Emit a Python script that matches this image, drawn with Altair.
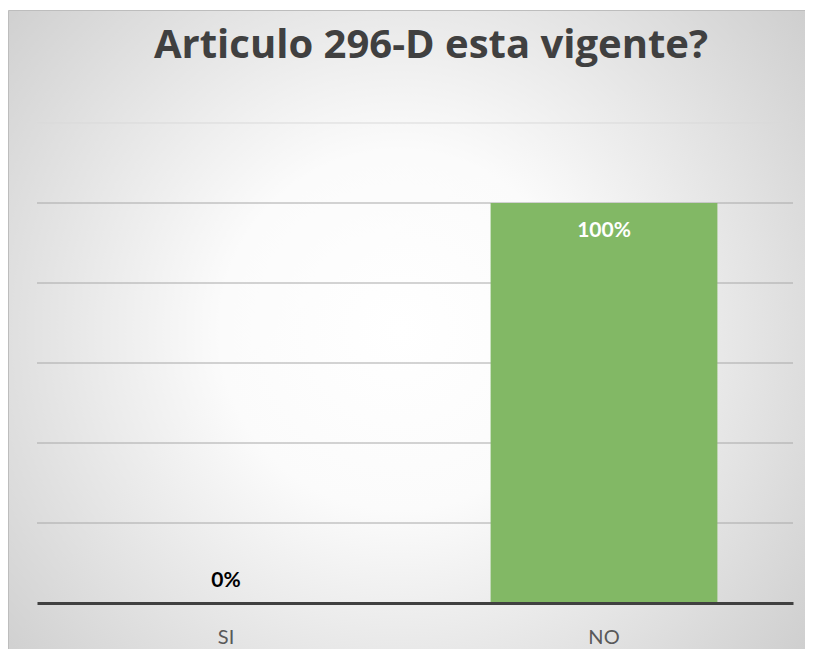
import altair as alt
import pandas as pd

categories = ["SI", "NO"]
values = [0.0, 1.0]
labels = ["0%", "100%"]
title_text = ["Articulo 296-D esta vigente?"]
grid_values = [0.2, 0.4, 0.6, 0.8, 1.0, 1.2]

df = pd.DataFrame({"cat": categories, "value": values, "label": labels})
grid_df = pd.DataFrame({"g": grid_values})
title_df = pd.DataFrame({"t": title_text})

W, H = 756, 480
PAD = {"left": 29, "top": 115, "right": 12, "bottom": 46}
FONT = "Lato"

xscale = alt.Scale(domain=categories, paddingInner=0.4, paddingOuter=0.2)
yscale = alt.Scale(domain=[0, 1.2], nice=False, zero=True)

bg = alt.Chart(title_df).mark_rect(
    fill={
        "gradient": "radial",
        "x1": 0.49, "y1": 0.5, "x2": 0.49, "y2": 0.5,
        "r1": 0, "r2": 0.75,
        "stops": [
            {"offset": 0, "color": "#ffffff"},
            {"offset": 0.3, "color": "#fbfbfb"},
            {"offset": 0.667, "color": "#dedede"},
            {"offset": 1, "color": "#c4c4c4"},
        ],
    },
    stroke="#bdbdbd",
    strokeWidth=1,
).encode(
    x=alt.value(-PAD["left"] + 0.5), x2=alt.value(W + PAD["right"] + 2),
    y=alt.value(-PAD["top"] + 2.5), y2=alt.value(H + PAD["bottom"] + 2),
)

title = alt.Chart(title_df).mark_text(
    font="Open Sans", fontSize=40, fontWeight="bold", color="#404040",
    baseline="alphabetic", align="center",
).encode(
    text="t:N",
    x=alt.value(394), y=alt.value(-65),
)

grid = alt.Chart(grid_df).mark_rule(strokeWidth=1).encode(
    y=alt.Y("g:Q", scale=yscale, axis=None),
    x=alt.value(0), x2=alt.value(W),
    color=alt.condition(alt.datum.g > 1.1, alt.value("#d9d9d9"),
                        alt.value("#a8a8a8")),
)

bars = alt.Chart(df).mark_bar(color="#82b865").encode(
    x=alt.X("cat:N", sort=categories, scale=xscale,
            axis=alt.Axis(title=None, labelAngle=0, ticks=False, tickSize=0,
                          labelPadding=40, labelBaseline="alphabetic",
                          labelFont=FONT, labelFontSize=20, labelColor="#595959",
                          domainColor="#404040", domainWidth=3, grid=False,
                          zindex=1)),
    y=alt.Y("value:Q", scale=yscale, axis=None),
)

lab_in = alt.Chart(df).transform_filter(alt.datum.value > 0.5).mark_text(
    font=FONT, fontSize=21, fontWeight="bold", color="white",
    baseline="alphabetic", dy=34,
).encode(
    x=alt.X("cat:N", sort=categories, scale=xscale),
    y=alt.Y("value:Q", scale=yscale),
    text="label:N",
)

lab_out = alt.Chart(df).transform_filter(alt.datum.value <= 0.5).mark_text(
    font=FONT, fontSize=21, fontWeight="bold", color="black",
    baseline="alphabetic", dy=-16,
).encode(
    x=alt.X("cat:N", sort=categories, scale=xscale),
    y=alt.Y("value:Q", scale=yscale),
    text="label:N",
)

chart = alt.layer(bg, title, grid, bars, lab_in, lab_out).properties(
    width=W, height=H,
    padding=PAD,
    autosize=alt.AutoSizeParams(type="none"),
).configure_view(stroke=None).configure(background="white")

chart.save("out.html", embed_options={"renderer": "svg", "actions": False})
